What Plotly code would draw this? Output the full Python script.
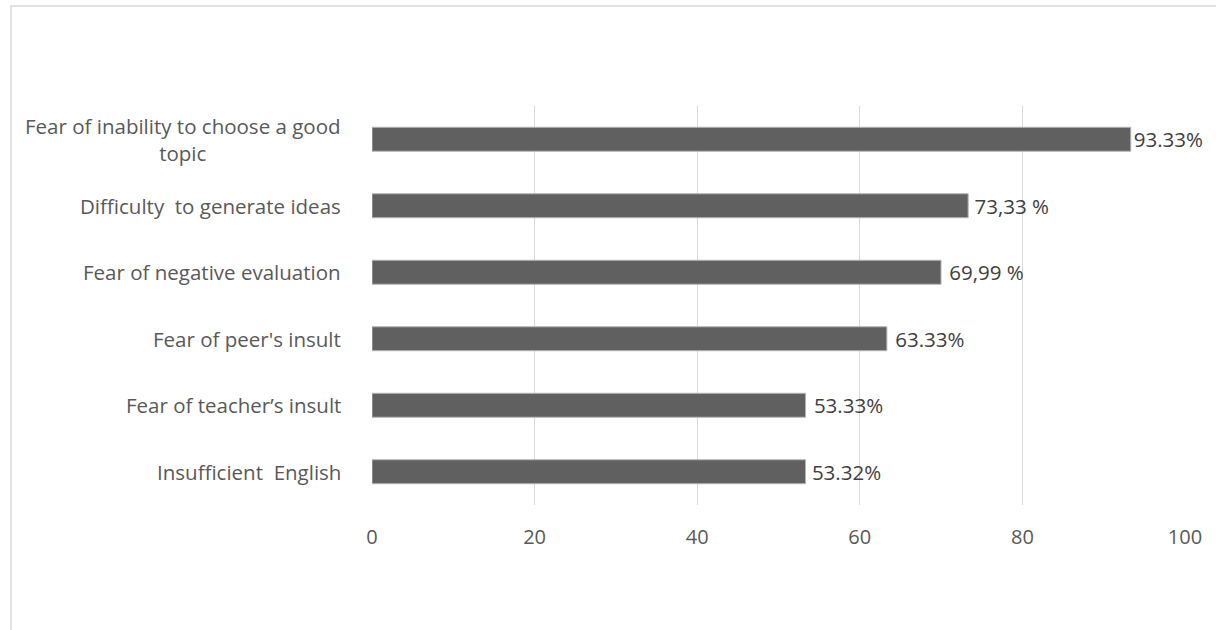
import plotly.graph_objects as go

# Survey results: share of students reporting each writing difficulty
categories = [
    "Insufficient  English",
    "Fear of teacher\u2019s insult",
    "Fear of peer's insult",
    "Fear of negative evaluation",
    "Difficulty  to generate ideas",
    "Fear of inability to choose a good<br>topic",
]
values = [53.32, 53.33, 63.33, 69.99, 73.33, 93.33]
value_labels = [
    "\u200953.32%",
    "\u00a053.33%",
    "\u00a063.33%",
    "\u00a069,99 %",
    "\u200973,33 %",
    "93.33%",
]
x_ticks = [0, 20, 40, 60, 80, 100]

W, H = 1216, 630
ML, MR, MT, MB = 372, 31, 106, 125
FONT = "Open Sans, Liberation Sans, sans-serif"
TEXT_COLOR = "#595959"

fig = go.Figure(
    go.Bar(
        x=values,
        y=categories,
        orientation="h",
        width=0.36,
        marker=dict(color="#606060", line=dict(color="#b5b5b5", width=1)),
        text=value_labels,
        textposition="outside",
        constraintext="none",
        textfont=dict(family=FONT, size=20.5, color="#404040"),
        cliponaxis=False,
        hoverinfo="skip",
    )
)

# Category labels as annotations so the wrapped label is centred
for cat in categories:
    fig.add_annotation(
        x=0, xref="paper", xanchor="right", xshift=-29,
        y=cat, yref="y", yanchor="middle",
        text=cat, showarrow=False, align="center",
        font=dict(family=FONT, size=20.5, color=TEXT_COLOR),
    )

# Light chart-area frame
pw = W - ML - MR
ph = H - MT - MB
fig.add_shape(
    type="rect", xref="paper", yref="paper",
    x0=(11 - ML) / pw, x1=(W + 5 - ML) / pw,
    y0=-(H + 5 - MT - ph) / ph, y1=(H - 6 - MB) / ph,
    line=dict(color="#d9d9d9", width=1.5), fillcolor="rgba(0,0,0,0)",
    layer="below",
)

fig.update_layout(
    width=W, height=H,
    margin=dict(l=ML, r=MR, t=MT, b=MB, pad=0),
    paper_bgcolor="white", plot_bgcolor="white",
    showlegend=False,
    xaxis=dict(
        range=[0, 100], tickvals=x_ticks,
        showgrid=True, gridcolor="#d9d9d9", gridwidth=1,
        zeroline=False, showline=False, ticks="",
        ticklabelstandoff=18,
        tickfont=dict(family=FONT, size=20, color=TEXT_COLOR),
        fixedrange=True,
    ),
    yaxis=dict(
        categoryorder="array", categoryarray=categories,
        showticklabels=False, showgrid=False, zeroline=False,
        showline=False, ticks="", range=[-0.5, 5.5],
        fixedrange=True,
    ),
)

fig.write_html("out.html")
